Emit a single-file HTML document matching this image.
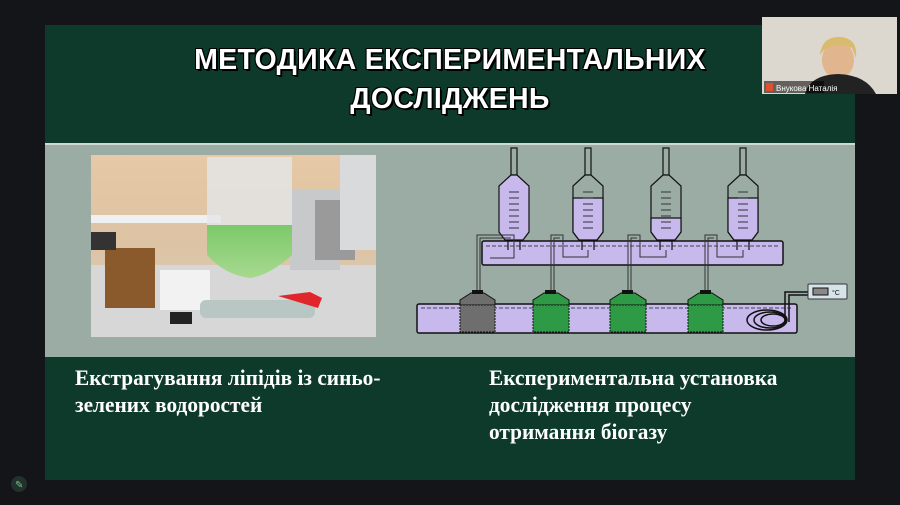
<!DOCTYPE html>
<html><head><meta charset="utf-8"><style>
html,body{margin:0;padding:0;background:#141518;}
body{width:900px;height:505px;position:relative;overflow:hidden;font-family:"Liberation Sans",sans-serif;}
.slide{position:absolute;left:45px;top:25px;width:810px;height:455px;background:#0d3a2b;}
.mid{position:absolute;left:45px;top:143px;width:810px;height:212px;background:#9aaca4;border-top:2px solid #cfd9d4;}
.title{position:absolute;left:45px;top:41px;width:810px;text-align:center;color:#fff;font-weight:bold;font-size:28.5px;line-height:39px;letter-spacing:0.3px;text-shadow:2px 2px 0 #000,-1px -1px 0 #000,1px -1px 0 #000,-1px 1px 0 #000;}
.cap{position:absolute;color:#fff;font-family:"Liberation Serif",serif;font-weight:bold;font-size:22px;line-height:27px;transform:scaleX(0.97);transform-origin:left;white-space:nowrap;}
</style></head><body>
<div class="slide"></div>
<div class="mid"></div>
<div class="title">МЕТОДИКА ЕКСПЕРИМЕНТАЛЬНИХ<br>ДОСЛІДЖЕНЬ</div>
<svg style="position:absolute;left:0;top:0" width="900" height="505">
<defs>
<linearGradient id="wall" x1="0" y1="0" x2="0" y2="1"><stop offset="0" stop-color="#e6c9a6"/><stop offset="0.5" stop-color="#dcc3a3"/><stop offset="1" stop-color="#d9d4cc"/></linearGradient>
<linearGradient id="liq" x1="0" y1="0" x2="0" y2="1"><stop offset="0" stop-color="#7cc96a"/><stop offset="1" stop-color="#a7d98f"/></linearGradient>
</defs>
<rect x="91" y="155" width="285" height="182" fill="url(#wall)"/>
<rect x="91" y="215" width="130" height="8" fill="#eef0f2"/>
<rect x="91" y="265" width="285" height="72" fill="#d6d7d6"/>
<rect x="105" y="248" width="50" height="60" fill="#8a5a2d"/>
<rect x="91" y="232" width="25" height="18" fill="#333"/>
<rect x="290" y="190" width="50" height="80" fill="#c8c9ca"/>
<rect x="315" y="200" width="40" height="60" fill="#9a9a9a"/>
<ellipse cx="358" cy="210" rx="10" ry="28" fill="#c9a060" stroke="#555" stroke-width="2"/>
<rect x="340" y="155" width="36" height="95" fill="#d8dadb"/>
<rect x="207" y="157" width="85" height="83" fill="#e4e6e8" opacity="0.8"/>
<path d="M207 225 L292 225 L292 255 Q270 275 250 278 Q225 275 207 255Z" fill="url(#liq)"/>
<rect x="160" y="270" width="50" height="40" fill="#f2f2f2"/>
<rect x="200" y="300" width="115" height="18" rx="6" fill="#b9c7c4"/>
<path d="M278 296 L310 292 L322 298 L318 308 Z" fill="#e0262b"/>
<rect x="170" y="312" width="22" height="12" fill="#222"/>
<g stroke="#111" stroke-width="1.5">
<rect x="482" y="241" width="301" height="24" rx="2" fill="#c8b9ec"/>
<rect x="417" y="304" width="380" height="29" rx="2" fill="#c8b9ec"/>
</g>
<g stroke="#445" stroke-width="1" stroke-dasharray="4,2" fill="none">
<line x1="486" y1="246" x2="779" y2="246"/>
<line x1="421" y1="308" x2="793" y2="308"/>
</g>
<g stroke="#111" stroke-width="1.2">
<g>
<rect x="511" y="148" width="6" height="27" fill="#9aaca4"/>
<path d="M511 175 L499 186 L499 232 L505 240 L523 240 L529 232 L529 186 L517 175Z" fill="#c8b9ec"/>
<line x1="508" y1="240" x2="508" y2="250"/><line x1="520" y1="240" x2="520" y2="250"/>
</g>
<g>
<rect x="585" y="148" width="6" height="27" fill="#9aaca4"/>
<path d="M585 175 L573 186 L573 232 L579 240 L597 240 L603 232 L603 186 L591 175Z" fill="#9aaca4"/>
<path d="M573 198 L603 198 L603 232 L597 240 L579 240 L573 232Z" fill="#c8b9ec"/>
<line x1="582" y1="240" x2="582" y2="250"/><line x1="594" y1="240" x2="594" y2="250"/>
</g>
<g>
<rect x="663" y="148" width="6" height="27" fill="#9aaca4"/>
<path d="M663 175 L651 186 L651 232 L657 240 L675 240 L681 232 L681 186 L669 175Z" fill="#9aaca4"/>
<path d="M651 218 L681 218 L681 232 L675 240 L657 240 L651 232Z" fill="#c8b9ec"/>
<line x1="660" y1="240" x2="660" y2="250"/><line x1="672" y1="240" x2="672" y2="250"/>
</g>
<g>
<rect x="740" y="148" width="6" height="27" fill="#9aaca4"/>
<path d="M740 175 L728 186 L728 232 L734 240 L752 240 L758 232 L758 186 L746 175Z" fill="#9aaca4"/>
<path d="M728 198 L758 198 L758 232 L752 240 L734 240 L728 232Z" fill="#c8b9ec"/>
<line x1="737" y1="240" x2="737" y2="250"/><line x1="749" y1="240" x2="749" y2="250"/>
</g>
</g>
<g stroke="#333" stroke-width="1">
<path d="M509 192h10M509 198h10M509 204h10M509 210h10M509 216h10M509 222h10M509 228h10"/>
<path d="M583 192h10M583 198h10M583 204h10M583 210h10M583 216h10M583 222h10M583 228h10"/>
<path d="M661 192h10M661 198h10M661 204h10M661 210h10M661 216h10M661 222h10M661 228h10"/>
<path d="M738 192h10M738 198h10M738 204h10M738 210h10M738 216h10M738 222h10M738 228h10"/>
</g>
<g stroke="#333" stroke-width="1" fill="none">
<path d="M477 292 V235 H514 V258 H490"/><path d="M480 292 V238 H511"/>
<path d="M551 292 V235 H563 V257 H588 V250"/><path d="M554 292 V238 H560"/>
<path d="M628 292 V235 H640 V257 H666 V250"/><path d="M631 292 V238 H637"/>
<path d="M705 292 V235 H717 V257 H743 V250"/><path d="M708 292 V238 H714"/>
</g>
<g stroke="#111" stroke-width="1">
<path d="M460 305 L460 300 L471 293 L484 293 L495 300 L495 305Z" fill="#6e6e6e"/>
<rect x="460" y="305" width="35" height="27" fill="#6e6e6e" stroke-dasharray="2,1"/>
<path d="M533 305 L533 300 L544 293 L558 293 L569 300 L569 305Z" fill="#2e9a45"/>
<rect x="533" y="305" width="36" height="27" fill="#2e9a45" stroke-dasharray="2,1"/>
<path d="M610 305 L610 300 L621 293 L635 293 L646 300 L646 305Z" fill="#2e9a45"/>
<rect x="610" y="305" width="36" height="27" fill="#2e9a45" stroke-dasharray="2,1"/>
<path d="M688 305 L688 300 L699 293 L712 293 L723 300 L723 305Z" fill="#2e9a45"/>
<rect x="688" y="305" width="35" height="27" fill="#2e9a45" stroke-dasharray="2,1"/>
</g>
<g fill="#111"><rect x="472" y="290" width="11" height="4"/><rect x="545" y="290" width="11" height="4"/><rect x="622" y="290" width="11" height="4"/><rect x="700" y="290" width="11" height="4"/></g>
<g fill="none" stroke="#111" stroke-width="1.5">
<ellipse cx="767" cy="320" rx="20" ry="10"/><ellipse cx="770" cy="320" rx="16" ry="8"/><ellipse cx="773" cy="320" rx="12" ry="6"/>
<path d="M785 322 V292 H808"/><path d="M789 322 V295 H808"/>
</g>
<rect x="808" y="284" width="39" height="15" rx="1" fill="#d6e4ea" stroke="#333"/>
<rect x="813" y="288" width="15" height="7" fill="#888" stroke="#111"/>
<text x="832" y="295" font-size="7" fill="#111" font-family="Liberation Sans">°C</text>
<rect x="762" y="17" width="135" height="77" fill="#ddd8cf"/>
<ellipse cx="838" cy="60" rx="16" ry="19" fill="#e1b58e"/>
<path d="M820 55 Q822 36 840 37 Q858 38 856 58 L852 48 Q838 42 824 50Z" fill="#d9bb70"/>
<path d="M805 94 Q810 75 838 74 Q866 75 876 94Z" fill="#222"/>
<rect x="764" y="81" width="60" height="12" fill="#000" opacity="0.55"/>
<rect x="766" y="83" width="7" height="8" fill="#e05030"/>
<text x="776" y="91" font-size="8" fill="#fff" font-family="Liberation Sans">Внукова Наталія</text>
<circle cx="19" cy="484" r="8" fill="#24302c"/>
<text x="15" y="488" font-size="10" fill="#5fd08a">✎</text>
</svg>
<div class="cap" style="left:75px;top:364px;">Екстрагування ліпідів із синьо-<br>зелених водоростей</div>
<div class="cap" style="left:489px;top:364px;">Експериментальна установка<br>дослідження процесу<br>отримання біогазу</div>
</body></html>
